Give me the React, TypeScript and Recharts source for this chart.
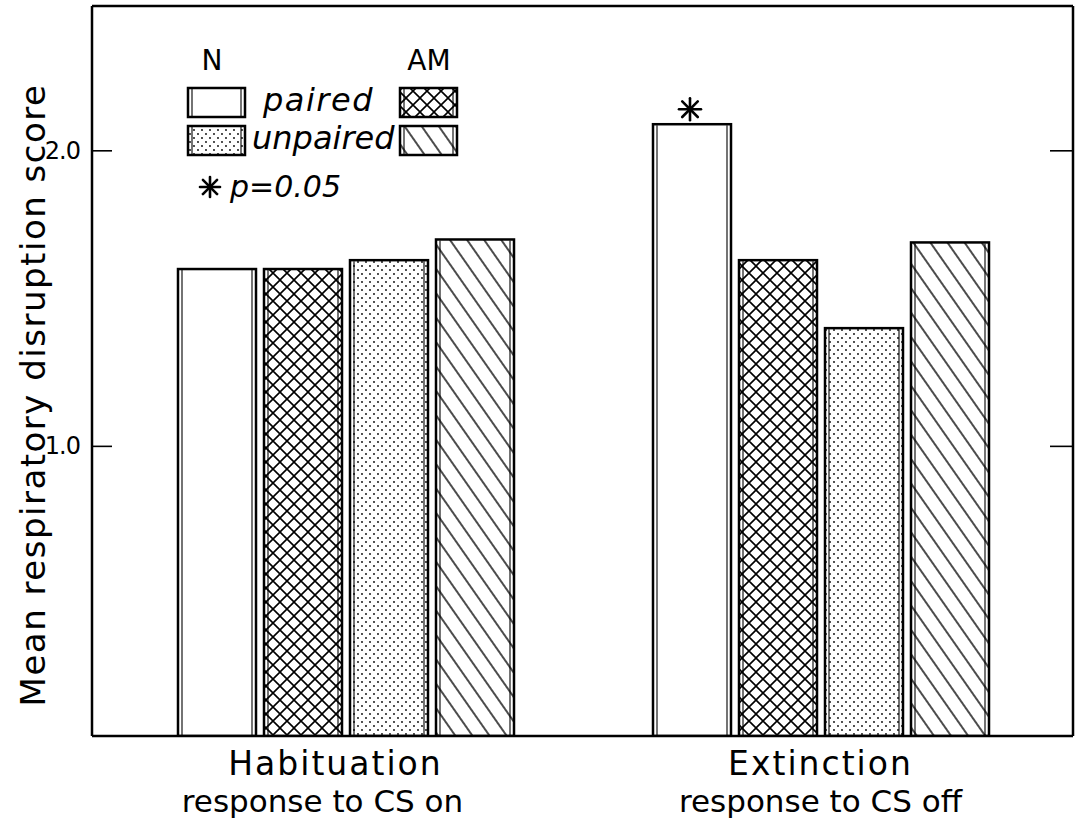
import { BarChart, Bar, XAxis, YAxis, LabelList } from 'recharts';

// condition groups along the x axis
const categories = ['Habituation', 'Extinction'];
const subLabels = ['response to CS on', 'response to CS off'];

// mean respiratory disruption score per group
const nPaired = [1.6, 2.09];
const amPaired = [1.6, 1.63];
const nUnpaired = [1.63, 1.4];
const amUnpaired = [1.7, 1.69];
const significance = ['', '*'];

const yTicks = [1.0, 2.0];
const yDomain = [0.02, 2.49];

const legendCols = ['N', 'AM'];
const legendRows = ['paired', 'unpaired'];
const pLabel = 'p=0.05';
const yLabel = 'Mean respiratory disruption score';

const data = categories.map((category, i) => ({
    category,
    nPaired: nPaired[i],
    amPaired: amPaired[i],
    nUnpaired: nUnpaired[i],
    amUnpaired: amUnpaired[i],
    sig: significance[i],
}));

const FONT = '"DejaVu Sans", sans-serif';
const W = 1080;
const H = 820;
const PLOT_LEFT = 92;
const PLOT_RIGHT = 1073;
const INK = '#000';

// nudges for the two-line category captions
const captionShift = [
    [-10, -23],
    [0, 0],
];

const Patterns = () => (
    <svg width={0} height={0} style={{ position: 'absolute' }}>
        <defs>
            <pattern id="cross" width={14} height={14} patternUnits="userSpaceOnUse">
                <rect width={14} height={14} fill="#fff" />
                <path d="M0,0 L14,14 M14,0 L0,14" stroke={INK} strokeWidth={1.6} />
            </pattern>
            <pattern id="dots" width={8} height={8} patternUnits="userSpaceOnUse">
                <rect width={8} height={8} fill="#fff" />
                <circle cx={2} cy={2} r={0.9} fill={INK} />
                <circle cx={6} cy={6} r={0.9} fill={INK} />
            </pattern>
            <pattern id="diag" width={14} height={10} patternUnits="userSpaceOnUse" patternTransform="rotate(-35)">
                <rect width={14} height={10} fill="#fff" />
                <line x1={7} y1={0} x2={7} y2={10} stroke={INK} strokeWidth={1.4} />
            </pattern>
        </defs>
    </svg>
);

// bar outline with the doubled side edges
const EdgedBar = (props: any) => {
    const { x, y, width, height, fill } = props;
    if (!width || !height) return null;
    return (
        <g>
            <rect x={x} y={y} width={width} height={height} fill={fill} stroke={INK} strokeWidth={2.5} />
            <line x1={x + 4} y1={y + 1} x2={x + 4} y2={y + height} stroke={INK} strokeWidth={1.1} />
            <line x1={x + width - 4} y1={y + 1} x2={x + width - 4} y2={y + height} stroke={INK} strokeWidth={1.1} />
        </g>
    );
};

const Asterisk = ({ cx, cy, r }: { cx: number; cy: number; r: number }) => (
    <g stroke={INK} strokeWidth={2.6} strokeLinecap="round">
        {[0, 45, 90, 135].map((a) => {
            const rad = (a * Math.PI) / 180;
            const dx = Math.cos(rad) * r;
            const dy = Math.sin(rad) * r;
            return <line key={a} x1={cx - dx} y1={cy - dy} x2={cx + dx} y2={cy + dy} />;
        })}
    </g>
);

const SigMark = (props: any) => {
    const { x, y, width, value } = props;
    if (value !== '*') return null;
    return <Asterisk cx={x + width / 2 - 2} cy={y - 15} r={11} />;
};

const YTick = (props: any) => {
    const { x, y, payload } = props;
    return (
        <g>
            <text x={x} y={y} dy={8} textAnchor="end" fontSize={24} letterSpacing={-1} fontFamily={FONT} fill={INK}>
                {Number(payload.value).toFixed(1)}
            </text>
            <line x1={PLOT_LEFT} y1={y} x2={PLOT_LEFT + 20} y2={y} stroke={INK} strokeWidth={1.6} />
            <line x1={PLOT_RIGHT - 23} y1={y} x2={PLOT_RIGHT} y2={y} stroke={INK} strokeWidth={1.6} />
        </g>
    );
};

const XTick = (props: any) => {
    const { x, y, index, payload } = props;
    const [d1, d2] = captionShift[index] ?? [0, 0];
    return (
        <g fontFamily={FONT} fill={INK}>
            <text x={x + d1} y={y} dy={31} textAnchor="middle" fontSize={33} letterSpacing={2}>
                {payload.value}
            </text>
            <text x={x + d2} y={y} dy={68} textAnchor="middle" fontSize={31}>
                {subLabels[index]}
            </text>
        </g>
    );
};

const YLabel = (props: any) => {
    const { viewBox } = props;
    const cx = viewBox.x + 33;
    const cy = viewBox.y + 389;
    return (
        <text x={cx} y={cy} transform={`rotate(-90 ${cx} ${cy})`} textAnchor="middle" dominantBaseline="central" fontSize={34} letterSpacing={1.5} fontFamily={FONT} fill={INK}>
            {yLabel}
        </text>
    );
};

const LegendBox = ({ x, y, fill }: { x: number; y: number; fill: string }) => (
    <EdgedBar x={x} y={y} width={57} height={29} fill={fill} />
);

const Key = () => (
    <svg width={W} height={H} style={{ position: 'absolute', left: 0, top: 0, pointerEvents: 'none' }}>
        <g fontFamily={FONT} fill={INK}>
            <text x={212} y={70} fontSize={28} textAnchor="middle">{legendCols[0]}</text>
            <text x={429} y={70} fontSize={28} textAnchor="middle">{legendCols[1]}</text>
            <text x={263} y={111} fontSize={32} letterSpacing={1.5} fontStyle="italic">{legendRows[0]}</text>
            <text x={252} y={149} fontSize={32} fontStyle="italic">{legendRows[1]}</text>
            <text x={230} y={197} fontSize={30} fontStyle="italic">{pLabel}</text>
        </g>
        <LegendBox x={188} y={88} fill="#fff" />
        <LegendBox x={400} y={88} fill="url(#cross)" />
        <LegendBox x={188} y={126} fill="url(#dots)" />
        <LegendBox x={400} y={126} fill="url(#diag)" />
        <Asterisk cx={210} cy={187} r={10} />
    </svg>
);

const App = () => {
    return (
        <div style={{ position: 'absolute', left: 0, top: 0, width: W, height: H, background: '#fff' }}>
            <Patterns />
            <BarChart width={W} height={H} data={data} margin={{ top: 5, right: W - PLOT_RIGHT - 1, left: 0, bottom: 0 }} barSize={78} barGap={8}>
                <XAxis
                    dataKey="category"
                    height={84}
                    padding={{ left: 16, right: 15 }}
                    axisLine={{ stroke: INK, strokeWidth: 2.5 }}
                    tickLine={false}
                    tick={<XTick />}
                    interval={0}
                />
                <XAxis xAxisId="top" dataKey="category" orientation="top" height={1} axisLine={{ stroke: INK, strokeWidth: 2.5 }} tick={false} tickLine={false} />
                <YAxis
                    width={PLOT_LEFT}
                    domain={yDomain}
                    ticks={yTicks}
                    allowDataOverflow
                    axisLine={{ stroke: INK, strokeWidth: 2.5 }}
                    tickLine={false}
                    tickMargin={6}
                    tick={<YTick />}
                    label={<YLabel />}
                />
                <YAxis yAxisId="right" orientation="right" width={1} domain={yDomain} allowDataOverflow axisLine={{ stroke: INK, strokeWidth: 2.5 }} tick={false} tickLine={false} />
                <Bar dataKey="nPaired" fill="#fff" shape={<EdgedBar />} isAnimationActive={false}>
                    <LabelList dataKey="sig" content={<SigMark />} />
                </Bar>
                <Bar dataKey="amPaired" fill="url(#cross)" shape={<EdgedBar />} isAnimationActive={false} />
                <Bar dataKey="nUnpaired" fill="url(#dots)" shape={<EdgedBar />} isAnimationActive={false} />
                <Bar dataKey="amUnpaired" fill="url(#diag)" shape={<EdgedBar />} isAnimationActive={false} />
            </BarChart>
            <Key />
        </div>
    );
};

export default App;
